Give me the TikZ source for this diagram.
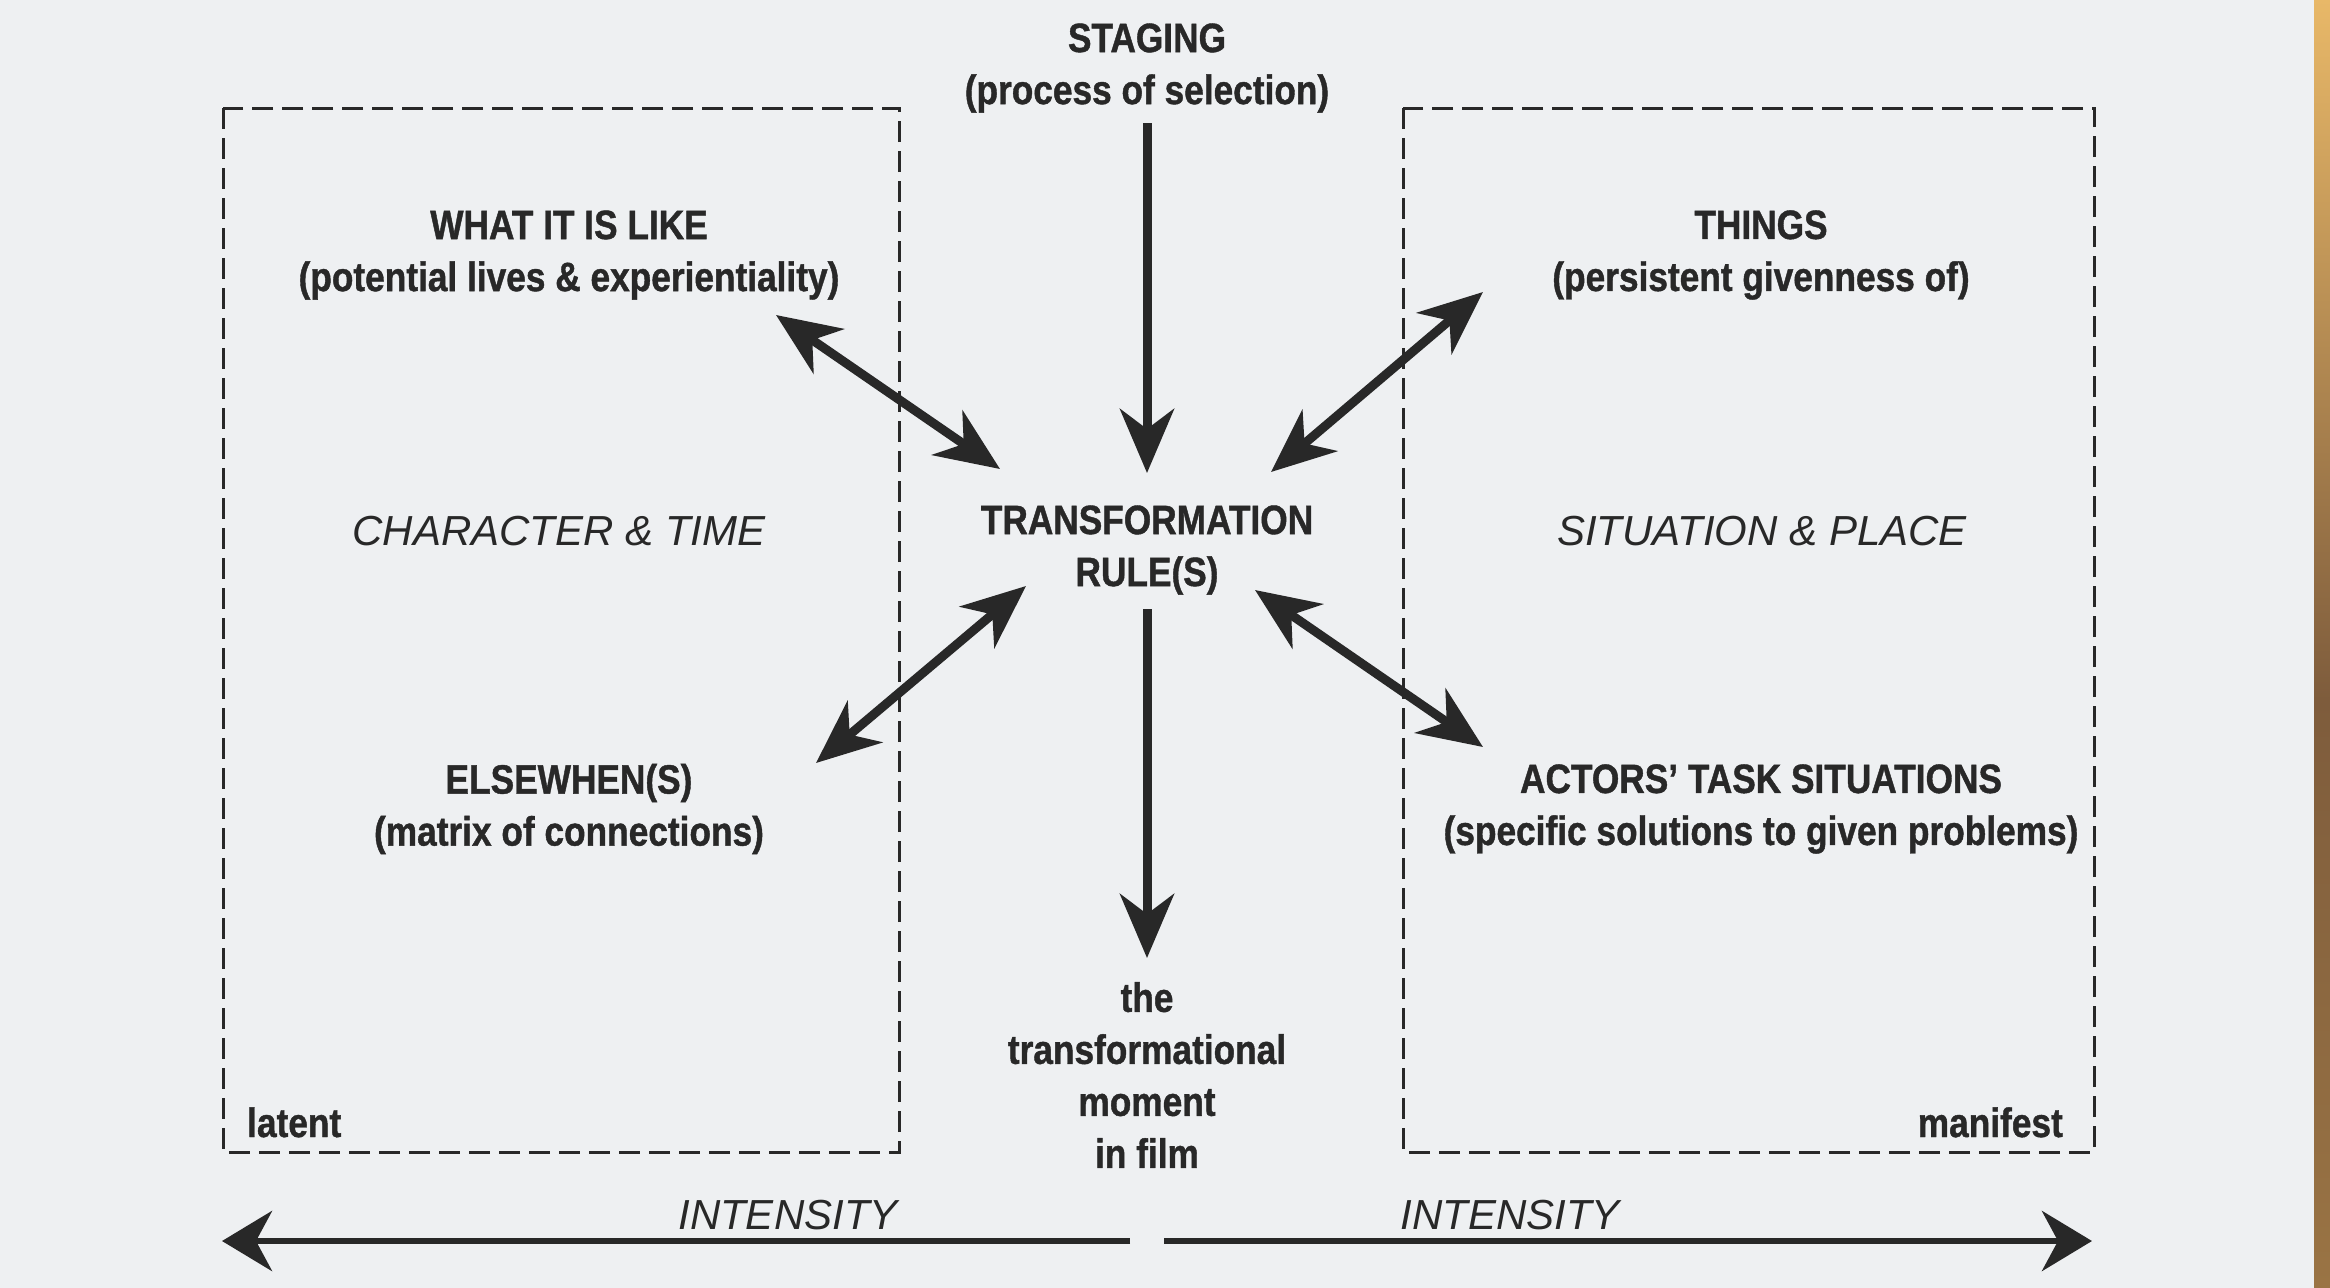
\documentclass[tikz,border=0pt]{standalone}
\usepackage{fontspec}
\setmainfont{Liberation Sans}[FakeStretch=0.86, BoldFeatures={FakeBold=1}]
\newfontfamily\itfam{Liberation Sans}[FakeStretch=1.0]
\usetikzlibrary{arrows.meta}
\definecolor{paper}{HTML}{EEF0F2}
\definecolor{ink}{HTML}{282828}
\definecolor{woodA}{HTML}{E8B868}
\definecolor{woodB}{HTML}{7E5C3C}
\definecolor{woodC}{HTML}{9A7444}
\tikzset{
  lbl/.style={text=ink, align=center, inner sep=0pt, font=\bfseries\fontsize{41}{52}\selectfont},
  itlbl/.style={text=ink, inner sep=0pt, font=\itfam\itshape\fontsize{42}{48}\selectfont},
  dbox/.style={draw=ink, line width=3pt, dash pattern=on 21pt off 9pt},
  bigarrow/.style={draw=ink, line width=9pt, -{Stealth[length=64pt,width=54pt,inset=20pt]}},
  dblarrow/.style={draw=ink, line width=9pt, {Stealth[length=64pt,width=54pt,inset=20pt]}-{Stealth[length=64pt,width=54pt,inset=20pt]}},
  intarrow/.style={draw=ink, line width=6.5pt, -{Stealth[length=50pt,width=60pt,inset=16pt]}},
}
\begin{document}
\begin{tikzpicture}[x=1pt,y=-1pt]
\fill[paper] (0,0) rectangle (2330,1288);
\useasboundingbox (0,0) rectangle (2330,1288);
\shade[top color=woodA, bottom color=woodB] (2314,0) rectangle (2330,700);
\shade[top color=woodB, bottom color=woodC] (2314,700) rectangle (2330,1288);

% dashed boxes
\draw[dbox] (223,108) rectangle (899,1152);
\draw[dbox] (1403,108) rectangle (2094,1152);

% labels
\node[lbl] (stg) at (1147,68) {STAGING\\(process of selection)};
\node[lbl] (tr) at (1147,550) {TRANSFORMATION\\RULE(S)};
\node[lbl] (mom) at (1147,1075) {the\\transformational\\moment\\in film};
\node[lbl] (wil) at (569,255) {WHAT IT IS LIKE\\(potential lives \& experientiality)};
\node[lbl] (els) at (569,809) {ELSEWHEN(S)\\(matrix of connections)};
\node[lbl] (thi) at (1761,255) {THINGS\\(persistent givenness of)};
\node[lbl] (act) at (1761,809) {ACTORS’ TASK SITUATIONS\\(specific solutions to given problems)};
\node[itlbl] (cht) at (559,531) {CHARACTER \& TIME};
\node[itlbl] (sip) at (1762,531) {SITUATION \& PLACE};
\node[lbl, anchor=base west] (lat) at (247,1137) {latent};
\node[lbl, anchor=base east] (man) at (2063,1137) {manifest};
\node[itlbl] (intl) at (788,1215) {INTENSITY};
\node[itlbl] (intr) at (1510,1215) {INTENSITY};

% arrow end points
\coordinate (s1) at (1147,123);
\coordinate (s2) at (1147,473);
\coordinate (m1) at (1147,609);
\coordinate (m2) at (1147,958);
\coordinate (ul1) at (776,315);
\coordinate (ul2) at (1000,469);
\coordinate (ur1) at (1483,292);
\coordinate (ur2) at (1271,472);
\coordinate (ll1) at (1026,586);
\coordinate (ll2) at (816,763);
\coordinate (lr1) at (1255,590);
\coordinate (lr2) at (1483,747);
\coordinate (bl1) at (1130,1241);
\coordinate (bl2) at (222,1241);
\coordinate (br1) at (1164,1241);
\coordinate (br2) at (2092,1241);

\draw[bigarrow] (s1) -- (s2);
\draw[bigarrow] (m1) -- (m2);
\draw[dblarrow] (ul1) -- (ul2);
\draw[dblarrow] (ur1) -- (ur2);
\draw[dblarrow] (ll1) -- (ll2);
\draw[dblarrow] (lr1) -- (lr2);
\draw[intarrow] (bl1) -- (bl2);
\draw[intarrow] (br1) -- (br2);
\end{tikzpicture}
\end{document}
